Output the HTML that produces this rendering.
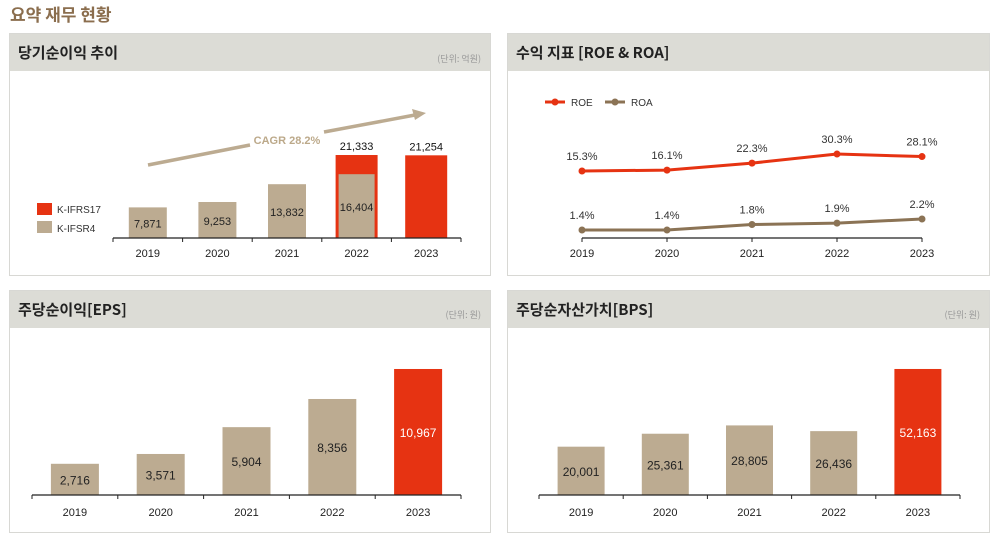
<!DOCTYPE html>
<html><head><meta charset="utf-8"><style>
html,body{margin:0;padding:0;background:#fff;}
svg{display:block;font-family:"Liberation Sans","Noto Sans CJK KR",sans-serif;}
</style></head><body>
<svg id="s" width="998" height="539" viewBox="0 0 998 539" xmlns="http://www.w3.org/2000/svg">
<text x="10" y="21" font-size="17" font-weight="bold" fill="#8b6e4e" font-family="Noto Sans CJK KR, sans-serif">요약 재무 현황</text>
<g>
<rect x="9.5" y="33.5" width="481" height="242" fill="#fff" stroke="#d8d8d4"/>
<rect x="10" y="34" width="480" height="37" fill="#dcdcd6"/>
<text x="18" y="58" font-size="15" font-weight="bold" fill="#222" font-family="Noto Sans CJK KR, sans-serif">당기순이익 추이</text>
<text x="481" y="62" font-size="9" fill="#999" text-anchor="end" font-family="Noto Sans CJK KR, sans-serif">(단위: 억원)</text>
</g>
<g>
<rect x="507.5" y="33.5" width="482" height="242" fill="#fff" stroke="#d8d8d4"/>
<rect x="508" y="34" width="481" height="37" fill="#dcdcd6"/>
<text x="516" y="58" font-size="15" font-weight="bold" fill="#222" font-family="Noto Sans CJK KR, sans-serif">수익 지표 [ROE &amp; ROA]</text>
</g>
<g>
<rect x="9.5" y="290.5" width="481" height="242" fill="#fff" stroke="#d8d8d4"/>
<rect x="10" y="291" width="480" height="37" fill="#dcdcd6"/>
<text x="18" y="315" font-size="15" font-weight="bold" fill="#222" font-family="Noto Sans CJK KR, sans-serif">주당순이익[EPS]</text>
<text x="481" y="318" font-size="9" fill="#999" text-anchor="end" font-family="Noto Sans CJK KR, sans-serif">(단위: 원)</text>
</g>
<g>
<rect x="507.5" y="290.5" width="482" height="242" fill="#fff" stroke="#d8d8d4"/>
<rect x="508" y="291" width="481" height="37" fill="#dcdcd6"/>
<text x="516" y="315" font-size="15" font-weight="bold" fill="#222" font-family="Noto Sans CJK KR, sans-serif">주당순자산가치[BPS]</text>
<text x="980" y="318" font-size="9" fill="#999" text-anchor="end" font-family="Noto Sans CJK KR, sans-serif">(단위: 원)</text>
</g>
</svg>
<script>
const years=["2019","2020","2021","2022","2023"];
const niIfrs4=[7871,9253,13832,16404,null];
const niIfrs17=[null,null,null,21333,21254];
const roe=[15.3,16.1,22.3,30.3,28.1];
const roa=[1.4,1.4,1.8,1.9,2.2];
const eps=[2716,3571,5904,8356,10967];
const bps=[20001,25361,28805,26436,52163];

const NS="http://www.w3.org/2000/svg";
const svg=document.getElementById('s');
const TAN="#bcab91",RED="#e63312",BROWN="#8b7355";
function mk(tag,attrs,parent){const e=document.createElementNS(NS,tag);for(const k in attrs)e.setAttribute(k,attrs[k]);(parent||svg).appendChild(e);return e;}
function txt(x,y,s,size,fill,anchor,parent){const t=mk('text',{x:x,y:y,'font-size':size,fill:fill,'text-anchor':anchor||'middle'},parent);t.textContent=s;return t;}
function fmt(v){return v.toLocaleString('en-US');}
function axis(x0,x1,y,n,labY){
  const g=mk('g',{});
  
  
  mk('line',{x1:x0,x2:x1,y1:y,y2:y,stroke:'#222','stroke-width':1.3},g);
  const step=(x1-x0)/n;
  for(let i=0;i<=n;i++){mk('line',{x1:x0+i*step,x2:x0+i*step,y1:y,y2:y+4,stroke:'#222','stroke-width':1},g);}
  years.forEach((yr,i)=>{const t=txt(x0+step*(i+0.5),labY,yr,11,'#222','middle',g);
    
    });
  return step;
}
// Chart 1
(function(){
  const x0=113,x1=461,base=238,k=0.00389,bw=38;
  const step=(x1-x0)/5;
  const cx=i=>x0+step*(i+0.5);
  const ys=v=>base-v*k;
  // arrow
  const ar=mk('g',{});
  
  
  mk('line',{x1:148,y1:165,x2:250,y2:145,stroke:TAN,'stroke-width':3.5},ar);
  mk('line',{x1:324,y1:132,x2:415,y2:115,stroke:TAN,'stroke-width':3.5},ar);
  mk('polygon',{points:'426,113 412,109 415,120',fill:TAN},ar);
  const ct=txt(287,144,'CAGR 28.2%',11,'#bca98a','middle',ar);ct.setAttribute('font-weight','bold');
  niIfrs17.forEach((v,i)=>{if(v==null)return;
    const r=mk('rect',{x:cx(i)-21,y:ys(v),width:42,height:base-ys(v),fill:RED});
    
    
    const t=txt(cx(i),ys(v)-5,fmt(v),11,'#111');
    
    });
  niIfrs4.forEach((v,i)=>{if(v==null)return;
    const w=i===3?36:bw;
    const r=mk('rect',{x:cx(i)-w/2,y:ys(v),width:w,height:base-ys(v),fill:TAN});
    
    
    const t=txt(cx(i),(ys(v)+base)/2+5,fmt(v),11,'#222');
    
    });
  axis(x0,x1,base,5,257);
  const lg=mk('g',{});
  
  
  mk('rect',{x:37,y:203,width:15,height:12,fill:RED},lg);
  txt(57,213,'K-IFRS17',10,'#333','start',lg);
  mk('rect',{x:37,y:221,width:15,height:12,fill:TAN},lg);
  txt(57,232,'K-IFSR4',10,'#333','start',lg);
})();
// Chart 2
(function(){
  const x0=582,step=85,base=238;
  const cx=i=>x0+i*step;
  const yRoe=v=>188.3-1.13*v;
  const yRoa=v=>249.25-13.75*v;
  const g=mk('g',{});
  
  
  mk('line',{x1:582,x2:922,y1:238,y2:238,stroke:'#222','stroke-width':1.3},g);
  years.forEach((yr,i)=>{mk('line',{x1:cx(i),x2:cx(i),y1:238,y2:242,stroke:'#222'},g);
    const t=txt(cx(i),257,yr,11,'#222','middle',g);
    
    });
  function series(arr,ys,col,name){
    const pl=mk('polyline',{points:arr.map((v,i)=>cx(i)+','+ys(v)).join(' '),fill:'none',stroke:col,'stroke-width':3});
    
    
    arr.forEach((v,i)=>{const c=mk('circle',{cx:cx(i),cy:ys(v),r:3.5,fill:col});
      
      
      const t=txt(cx(i),ys(v)-11,v.toFixed(1)+'%',11,'#333');
      
      });
  }
  series(roe,yRoe,RED,'roe');
  series(roa,yRoa,BROWN,'roa');
  const lg=mk('g',{});
  
  
  mk('line',{x1:545,x2:565,y1:102,y2:102,stroke:RED,'stroke-width':3},lg);
  mk('circle',{cx:555,cy:102,r:3.5,fill:RED},lg);
  txt(571,106,'ROE',10,'#333','start',lg);
  mk('line',{x1:605,x2:625,y1:102,y2:102,stroke:BROWN,'stroke-width':3},lg);
  mk('circle',{cx:615,cy:102,r:3.5,fill:BROWN},lg);
  txt(631,106,'ROA',10,'#333','start',lg);
})();
function barChart(arr,x0,x1,base,k,bw,name){
  const step=(x1-x0)/5;
  const cx=i=>x0+step*(i+0.5);
  const ys=v=>base-v*k;
  arr.forEach((v,i)=>{const last=i===arr.length-1;
    const r=mk('rect',{x:cx(i)-bw/2,y:ys(v),width:bw,height:base-ys(v),fill:last?RED:TAN});
    
    
    const t=txt(cx(i),(ys(v)+base)/2+5,fmt(v),12,last?'#fff':'#222');
    
    });
  axis(x0,x1,base,5,516);
}
barChart(eps,32,461,495,0.01149,48,'eps');
barChart(bps,539,960,495,0.002416,47,'bps');
</script>
</body></html>
